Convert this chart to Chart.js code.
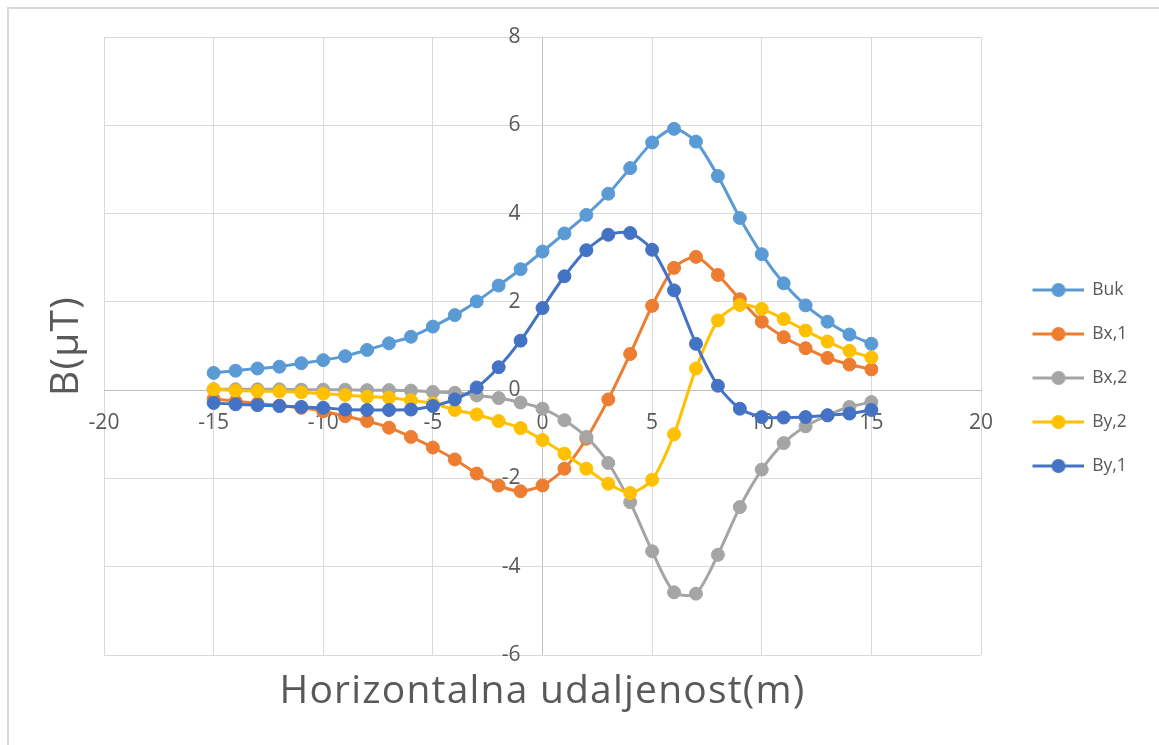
<!DOCTYPE html>
<html>
<head>
<meta charset="utf-8">
<script src="https://cdn.jsdelivr.net/npm/chart.js@4/dist/chart.umd.min.js"></script>
<style>
  body { margin: 0; background: #fff; }
  #mycanvas { display: block; }
</style>
</head>
<body>
<canvas id="mycanvas" width="1159" height="745"></canvas>
<script>
// horizontal distance (m)
var xVals = [-15,-14,-13,-12,-11,-10,-9,-8,-7,-6,-5,-4,-3,-2,-1,0,1,2,3,4,5,6,7,8,9,10,11,12,13,14,15];

// field components (uT)
var buk = [0.39,0.44,0.49,0.53,0.61,0.68,0.77,0.91,1.06,1.21,1.44,1.70,2.01,2.37,2.74,3.14,3.55,3.97,4.45,5.03,5.61,5.92,5.63,4.85,3.90,3.08,2.42,1.92,1.55,1.26,1.05];
var bx1 = [-0.20,-0.25,-0.30,-0.35,-0.40,-0.48,-0.59,-0.70,-0.85,-1.06,-1.30,-1.57,-1.89,-2.16,-2.29,-2.16,-1.78,-1.10,-0.21,0.82,1.91,2.77,3.02,2.61,2.06,1.55,1.20,0.95,0.73,0.58,0.47];
var bx2 = [0.02,0.02,0.02,0.02,0.01,0.01,0.01,0.00,0.00,-0.01,-0.04,-0.06,-0.12,-0.18,-0.28,-0.42,-0.68,-1.06,-1.65,-2.54,-3.65,-4.58,-4.61,-3.73,-2.65,-1.80,-1.20,-0.82,-0.57,-0.38,-0.27];
var by2 = [0.02,-0.01,-0.02,-0.03,-0.05,-0.08,-0.11,-0.15,-0.17,-0.23,-0.30,-0.45,-0.55,-0.70,-0.86,-1.13,-1.44,-1.78,-2.12,-2.33,-2.03,-1.00,0.49,1.58,1.93,1.84,1.61,1.35,1.10,0.89,0.74];
var by1 = [-0.29,-0.32,-0.34,-0.36,-0.38,-0.40,-0.44,-0.45,-0.45,-0.44,-0.36,-0.21,0.06,0.52,1.12,1.86,2.58,3.17,3.52,3.56,3.18,2.26,1.05,0.10,-0.42,-0.61,-0.62,-0.61,-0.57,-0.53,-0.45];

var seriesNames = ["Buk", "Bx,1", "Bx,2", "By,2", "By,1"];
var seriesData = [buk, bx1, bx2, by2, by1];
var seriesColors = ["#5B9BD5", "#ED7D31", "#A5A5A5", "#FFC000", "#4472C4"];

var xTitle = "Horizontalna udaljenost(m)";
var yTitle = "B(\u00B5T)";

var textColor = "#595959";
var fontFamily = "'Open Sans', 'Noto Sans', sans-serif";

// plot area wanted: left 104, right 981, top 37, bottom 655
var legendFontSize = 17.5;
var legendPad = 26.5;
var symbolW = 76;

function points(ys) {
  var out = [];
  for (var i = 0; i < xVals.length; i++) out.push({x: xVals[i], y: ys[i]});
  return out;
}

// legend symbol: line with a marker, like the office charts
function legendSymbol(color) {
  var c = document.createElement("canvas");
  c.width = symbolW;
  c.height = 18;
  var g = c.getContext("2d");
  g.strokeStyle = color;
  g.lineWidth = 3;
  g.beginPath();
  g.moveTo(25, 9);
  g.lineTo(symbolW, 9);
  g.stroke();
  g.fillStyle = color;
  g.beginPath();
  g.arc(51, 9, 7, 0, Math.PI * 2);
  g.fill();
  return c;
}

// right padding so the legend starts where the plot ends
var mctx = document.createElement("canvas").getContext("2d");
mctx.font = legendFontSize + "px " + fontFamily;
var maxText = 0;
seriesNames.forEach(function(n) { maxText = Math.max(maxText, mctx.measureText(n).width); });
var legendW = legendPad + symbolW + legendFontSize / 2 + maxText + 10;
var padRight = Math.max(0, 1159 - 981 - legendW);

var datasets = [];
for (var i = 0; i < seriesNames.length; i++) {
  datasets.push({
    label: seriesNames[i],
    data: points(seriesData[i]),
    borderColor: seriesColors[i],
    backgroundColor: seriesColors[i],
    pointBackgroundColor: seriesColors[i],
    pointBorderColor: seriesColors[i],
    borderWidth: 3,
    pointRadius: 6.5,
    pointBorderWidth: 1,
    tension: 0.25,
    fill: false,
    order: seriesNames.length - i
  });
}

var decor = {
  id: "decor",
  beforeDraw: function(chart) {
    var ctx = chart.ctx;
    ctx.save();
    ctx.strokeStyle = "#d9d9d9";
    ctx.lineWidth = 2;
    ctx.beginPath();
    ctx.moveTo(8, 745);
    ctx.lineTo(8, 8);
    ctx.lineTo(1159, 8);
    ctx.stroke();
    ctx.restore();
  },
  afterDraw: function(chart) {
    var ctx = chart.ctx;
    var area = chart.chartArea;
    ctx.save();
    ctx.fillStyle = textColor;
    ctx.font = "39px " + fontFamily;
    ctx.letterSpacing = "1.2px";
    ctx.textAlign = "center";
    ctx.textBaseline = "alphabetic";
    ctx.fillText(xTitle, (area.left + area.right) / 2, 703);
    ctx.translate(78, (area.top + area.bottom) / 2);
    ctx.rotate(-Math.PI / 2);
    ctx.fillText(yTitle, 0, 0);
    ctx.restore();
  }
};

var ctx = document.getElementById("mycanvas");

var chart = new Chart(ctx, {
  type: "line",
  data: { datasets: datasets },
  plugins: [decor],
  options: {
    responsive: false,
    animation: false,
    layout: {
      padding: { left: 104, top: 37, bottom: 90, right: padRight }
    },
    scales: {
      x: {
        type: "linear",
        position: { y: 0 },
        min: -20,
        max: 20,
        ticks: {
          stepSize: 5,
          color: textColor,
          padding: 20,
          font: { family: fontFamily, size: 21 }
        },
        grid: {
          // the x = 0 line doubles as the vertical axis line
          color: function(c) { return c.tick && c.tick.value === 0 ? "#bfbfbf" : "#d9d9d9"; },
          drawTicks: false
        },
        border: { color: "#bfbfbf", width: 1 }
      },
      y: {
        type: "linear",
        // labels sit right-aligned on the axis position, so park the axis one unit left
        // of zero to get the gap Excel leaves between the labels and the x = 0 line
        position: { x: -1 },
        min: -6,
        max: 8,
        ticks: {
          stepSize: 2,
          color: textColor,
          font: { family: fontFamily, size: 21 }
        },
        grid: { color: "#d9d9d9", drawTicks: false },
        border: { display: false }
      }
    },
    plugins: {
      tooltip: { enabled: false },
      legend: {
        position: "right",
        title: { display: true, text: "", padding: 25, font: { size: 14, lineHeight: 1 } },
        labels: {
          color: textColor,
          padding: legendPad,
          usePointStyle: true,
          pointStyleWidth: symbolW,
          font: { family: fontFamily, size: legendFontSize },
          sort: function(a, b) { return a.datasetIndex - b.datasetIndex; },
          generateLabels: function(chart) {
            var items = Chart.defaults.plugins.legend.labels.generateLabels(chart);
            items.forEach(function(it) {
              it.pointStyle = legendSymbol(seriesColors[it.datasetIndex]);
            });
            return items;
          }
        }
      }
    }
  }
});
</script>
</body>
</html>
